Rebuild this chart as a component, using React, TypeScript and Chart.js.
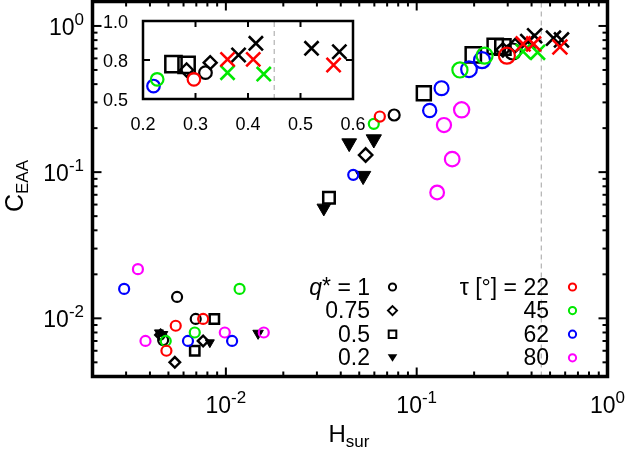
import React, { useEffect, useRef } from 'react';
import { Chart, registerables } from 'chart.js';

Chart.register(...registerables);

const FONT = '"Liberation Sans", Arial, Helvetica, sans-serif';

// ---- axis ranges ----
const X_MIN = 0.002;
const X_MAX = 1;
const Y_MIN = 0.004;
const Y_MAX = 1.47;
const H_MARK = 0.45;

const INSET_X_MIN = 0.2;
const INSET_X_MAX = 0.6;
const INSET_Y_MIN = 0.5;
const INSET_Y_MAX = 1.0;
const insetXTicks = [0.2, 0.3, 0.4, 0.5, 0.6];
const insetYTicks = [0.5, 0.75, 1.0];

const decadeTicks = [0.01, 0.1, 1];
const decadeExps = ['-2', '-1', '0'];

const qLabels = ['1', '0.75', '0.5', '0.2'];
const tauLabels = ['22', '45', '62', '80'];

// ---- data: [H_sur, C_EAA] ----
type P = [number, number];
const tau22: P[] = [[0.00546, 0.0089], [0.0076, 0.0099], [0.00488, 0.006], [0.0641, 0.24], [0.297, 0.626]];
const tau45: P[] = [[0.0118, 0.0159], [0.00687, 0.008], [0.00484, 0.007], [0.0596, 0.214], [0.1685, 0.5], [0.227, 0.626]];
const tau62: P[] = [[0.00293, 0.0159], [0.00633, 0.007], [0.01078, 0.007], [0.0465, 0.0958], [0.117, 0.264], [0.135, 0.375], [0.188, 0.506], [0.22, 0.583]];
const tau80: P[] = [[0.00346, 0.0217], [0.00379, 0.007], [0.00987, 0.008], [0.0158, 0.008], [0.128, 0.0726], [0.1535, 0.1227], [0.139, 0.21], [0.172, 0.267]];
const q1: P[] = [[0.00555, 0.014], [0.00695, 0.0099], [0.00469, 0.0071], [0.0762, 0.246], [0.319, 0.669]];
const q075: P[] = [[0.0054, 0.005], [0.0076, 0.007], [0.00455, 0.0077], [0.054, 0.131], [0.283, 0.686], [0.328, 0.733]];
const q05: P[] = [[0.0087, 0.0099], [0.00687, 0.006], [0.0347, 0.0667], [0.109, 0.347], [0.198, 0.634], [0.258, 0.724], [0.283, 0.718]];
const q02: P[] = [[0.00446, 0.008], [0.0047, 0.0078], [0.00824, 0.00684], [0.01475, 0.0079], [0.0326, 0.0568], [0.0443, 0.158], [0.0524, 0.0944], [0.0596, 0.168]];
const crossBlack: P[] = [[0.382, 0.782], [0.415, 0.857], [0.521, 0.825], [0.574, 0.803]];
const crossRed: P[] = [[0.361, 0.754], [0.41, 0.754], [0.563, 0.718]];
const crossGreen: P[] = [[0.361, 0.669], [0.43, 0.66]];

const RED = '#ff0000';
const GREEN = '#00e800';
const BLUE = '#0000ff';
const MAGENTA = '#ff00ff';
const BLACK = '#000000';
const tauColors = [RED, GREEN, BLUE, MAGENTA];

// ---- marker size helpers (style) ----
const lg = (v: number) => Math.log10(v);
const c01 = (t: number) => Math.max(0, Math.min(1, t));
const rCircle = (x: number) => 5 + 3 * c01((lg(x) + 1.2) / 0.5);
const rSquare = (x: number) => 6.6 + 4.2 * c01((lg(x) + 1.9) / 1.2);
const rDiamond = (x: number) => 5.3 + 1.4 * c01((lg(x) + 2) / 0.7);
const rTri = (x: number) => 5.2 + 3.6 * c01((lg(x) + 2) / 0.7);
const rCross = (_x: number) => 10.5;

function series(data: P[], style: string, color: string, size: (x: number) => number, opts: { fill?: boolean; rot?: number; width?: number; inset?: boolean } = {}) {
  const pts = data
    .filter(([x, y]) => !opts.inset || (x >= INSET_X_MIN && x <= INSET_X_MAX && y >= INSET_Y_MIN && y <= INSET_Y_MAX))
    .map(([x, y]) => ({ x, y }));
  const rad = (c: any) => (c && c.raw ? size(c.raw.x) : 5);
  return {
    type: 'scatter',
    data: pts,
    showLine: false,
    clip: false,
    pointStyle: style,
    pointRadius: rad,
    pointHoverRadius: rad,
    borderColor: color,
    pointBorderColor: color,
    backgroundColor: opts.fill ? color : 'rgba(0,0,0,0)',
    pointBackgroundColor: opts.fill ? color : 'rgba(0,0,0,0)',
    borderWidth: opts.width ?? 2.2,
    pointBorderWidth: opts.width ?? 2.2,
    pointRotation: opts.rot ?? 0,
  };
}

type Seg = { t: string; f: string; dy?: number };
function drawRich(ctx: CanvasRenderingContext2D, segs: Seg[], x: number, y: number, align: 'left' | 'center' | 'right') {
  let w = 0;
  const ws = segs.map((s) => {
    ctx.font = s.f;
    const m = ctx.measureText(s.t).width;
    w += m;
    return m;
  });
  let cx = align === 'left' ? x : align === 'center' ? x - w / 2 : x - w;
  ctx.textAlign = 'left';
  ctx.textBaseline = 'alphabetic';
  segs.forEach((s, i) => {
    ctx.font = s.f;
    ctx.fillText(s.t, cx, y + (s.dy || 0));
    cx += ws[i];
  });
}

function line(ctx: CanvasRenderingContext2D, x1: number, y1: number, x2: number, y2: number) {
  ctx.beginPath();
  ctx.moveTo(x1, y1);
  ctx.lineTo(x2, y2);
  ctx.stroke();
}

function legendMarker(ctx: CanvasRenderingContext2D, kind: string, x: number, y: number, color: string) {
  ctx.save();
  ctx.strokeStyle = color;
  ctx.fillStyle = color;
  ctx.lineWidth = 2;
  ctx.beginPath();
  if (kind === 'circle') {
    ctx.arc(x, y, 3.6, 0, Math.PI * 2);
    ctx.stroke();
  } else if (kind === 'diamond') {
    ctx.moveTo(x, y - 4.5);
    ctx.lineTo(x + 4.5, y);
    ctx.lineTo(x, y + 4.5);
    ctx.lineTo(x - 4.5, y);
    ctx.closePath();
    ctx.stroke();
  } else if (kind === 'square') {
    ctx.rect(x - 3.8, y - 3.8, 7.6, 7.6);
    ctx.stroke();
  } else {
    ctx.moveTo(x - 4.8, y - 3.5);
    ctx.lineTo(x + 4.8, y - 3.5);
    ctx.lineTo(x, y + 4);
    ctx.closePath();
    ctx.fill();
  }
  ctx.restore();
}

const mainDecor = {
  id: 'mainDecor',
  afterDraw(chart: any) {
    const { ctx, chartArea: a } = chart;
    const xs = chart.scales.x;
    const ys = chart.scales.y;
    ctx.save();
    ctx.strokeStyle = '#000';
    ctx.lineWidth = 2;
    for (let e = -3; e <= 0; e++) {
      for (let k = 1; k <= 9; k++) {
        const v = k * Math.pow(10, e);
        const len = k === 1 ? 9 : 5;
        if (v >= X_MIN * 0.999 && v <= X_MAX * 1.001) {
          const p = xs.getPixelForValue(v);
          line(ctx, p, a.bottom, p, a.bottom - len);
          line(ctx, p, a.top, p, a.top + len);
        }
        if (v >= Y_MIN * 0.999 && v <= Y_MAX) {
          const p = ys.getPixelForValue(v);
          line(ctx, a.left, p, a.left + len, p);
          line(ctx, a.right, p, a.right - len, p);
        }
      }
    }
    ctx.lineWidth = 3.5;
    ctx.strokeRect(a.left, a.top, a.right - a.left, a.bottom - a.top);

    ctx.fillStyle = '#000';
    decadeTicks.forEach((v, i) => {
      const segs: Seg[] = [
        { t: '10', f: `23px ${FONT}` },
        { t: decadeExps[i], f: `17px ${FONT}`, dy: -10 },
      ];
      drawRich(ctx, segs, xs.getPixelForValue(v), a.bottom + 36, 'center');
      drawRich(ctx, segs, 84, ys.getPixelForValue(v) + 9, 'right');
    });

    drawRich(ctx, [{ t: 'H', f: `24px ${FONT}` }, { t: 'sur', f: `17px ${FONT}`, dy: 5 }], 349, 442, 'center');
    ctx.save();
    ctx.translate(23, 186);
    ctx.rotate(-Math.PI / 2);
    drawRich(ctx, [{ t: 'C', f: `25px ${FONT}` }, { t: 'EAA', f: `17px ${FONT}`, dy: 5 }], 0, 0, 'center');
    ctx.restore();

    // legend
    const lf = `23px ${FONT}`;
    const rowY = (i: number) => 294.5 + i * 23.6;
    const kinds = ['circle', 'diamond', 'square', 'triangle'];
    qLabels.forEach((lab, i) => {
      const segs: Seg[] =
        i === 0
          ? [{ t: 'q', f: `italic 23px ${FONT}` }, { t: '*', f: lf, dy: -1 }, { t: ' = ' + lab, f: lf }]
          : [{ t: lab, f: lf }];
      drawRich(ctx, segs, 370, rowY(i), 'right');
      legendMarker(ctx, kinds[i], 392.5, rowY(i) - 7.5, '#000');
    });
    tauLabels.forEach((lab, i) => {
      const segs: Seg[] = i === 0 ? [{ t: 'τ [°] = ' + lab, f: lf }] : [{ t: lab, f: lf }];
      drawRich(ctx, segs, 549, rowY(i), 'right');
      legendMarker(ctx, 'circle', 572.5, rowY(i) - 7.5, tauColors[i]);
    });
    ctx.restore();
  },
};

const insetDecor = {
  id: 'insetDecor',
  afterDraw(chart: any) {
    const { ctx, chartArea: a } = chart;
    const xs = chart.scales.x;
    const ys = chart.scales.y;
    ctx.save();
    ctx.strokeStyle = '#000';
    ctx.lineWidth = 2;
    insetXTicks.slice(1, -1).forEach((v) => {
      const p = xs.getPixelForValue(v);
      line(ctx, p, a.bottom, p, a.bottom - 6);
      line(ctx, p, a.top, p, a.top + 6);
    });
    insetYTicks.slice(1, -1).forEach((v) => {
      const p = ys.getPixelForValue(v);
      line(ctx, a.left, p, a.left + 7, p);
      line(ctx, a.right, p, a.right - 7, p);
    });
    ctx.lineWidth = 2.5;
    ctx.strokeRect(a.left, a.top, a.right - a.left, a.bottom - a.top);
    ctx.fillStyle = '#000';
    ctx.font = `18px ${FONT}`;
    ctx.textBaseline = 'alphabetic';
    ctx.textAlign = 'center';
    insetXTicks.forEach((v) => ctx.fillText(v.toFixed(1), xs.getPixelForValue(v), a.bottom + 31));
    ctx.textAlign = 'right';
    insetYTicks.forEach((v) => ctx.fillText(v.toFixed(1), a.left - 15, ys.getPixelForValue(v) + 7));
    ctx.restore();
  },
};

function buildDatasets(inset: boolean): any[] {
  const o = (extra: any) => ({ ...extra, inset });
  const rc = inset ? () => 6.3 : rCircle;
  const rs = inset ? () => 11.5 : rSquare;
  const rd = inset ? () => 6.5 : rDiamond;
  const rx = inset ? () => 10 : rCross;
  const list: any[] = [
    series(crossRed, 'crossRot', RED, rx, o({ width: 2.6 })),
    series(crossGreen, 'crossRot', GREEN, rx, o({ width: 2.6 })),
    series(crossBlack, 'crossRot', BLACK, rx, o({ width: 2.6 })),
    series(tau22, 'circle', RED, rc, o({})),
    series(tau45, 'circle', GREEN, rc, o({})),
    series(tau62, 'circle', BLUE, rc, o({})),
    series(tau80, 'circle', MAGENTA, rc, o({})),
    series(q1, 'circle', BLACK, rc, o({})),
    series(q075, 'rectRot', BLACK, rd, o({ width: 2.4 })),
    series(q05, 'rect', BLACK, rs, o({ width: 2.5 })),
    series(q02, 'triangle', BLACK, rTri, o({ fill: true, rot: 180, width: 1 })),
  ];
  list.push({
    type: 'line',
    data: inset
      ? [{ x: H_MARK, y: INSET_Y_MIN }, { x: H_MARK, y: INSET_Y_MAX }]
      : [{ x: H_MARK, y: Y_MIN }, { x: H_MARK, y: Y_MAX }],
    showLine: true,
    borderColor: '#b8b8b8',
    borderWidth: 1.3,
    borderDash: [5, 4],
    pointRadius: 0,
    fill: false,
  });
  return list;
}

export default function App() {
  const mainRef = useRef<HTMLCanvasElement>(null);
  const insetRef = useRef<HTMLCanvasElement>(null);

  useEffect(() => {
    document.body.style.margin = '0';
    const common = {
      responsive: false,
      animation: false,
      events: [],
      plugins: { legend: { display: false }, tooltip: { enabled: false } },
    };
    const main = new Chart(mainRef.current as HTMLCanvasElement, {
      type: 'scatter',
      data: { datasets: buildDatasets(false) },
      options: {
        ...common,
        layout: { autoPadding: false, padding: { left: 92.5, right: 18.5, top: 1.5, bottom: 72.5 } },
        scales: {
          x: { type: 'logarithmic', min: X_MIN, max: X_MAX, display: false },
          y: { type: 'logarithmic', min: Y_MIN, max: Y_MAX, display: false },
        },
      } as any,
      plugins: [mainDecor],
    } as any);
    const inset = new Chart(insetRef.current as HTMLCanvasElement, {
      type: 'scatter',
      data: { datasets: buildDatasets(true) },
      options: {
        ...common,
        layout: { autoPadding: false, padding: { left: 48, right: 22, top: 16, bottom: 41 } },
        scales: {
          x: { type: 'linear', min: INSET_X_MIN, max: INSET_X_MAX, display: false },
          y: { type: 'linear', min: INSET_Y_MIN, max: INSET_Y_MAX, display: false },
        },
      } as any,
      plugins: [insetDecor],
    } as any);
    return () => {
      main.destroy();
      inset.destroy();
    };
  }, []);

  return (
    <div style={{ position: 'relative', width: 626, height: 449, background: '#fff', overflow: 'hidden' }}>
      <canvas ref={mainRef} width={626} height={449} style={{ position: 'absolute', left: 0, top: 0 }} />
      <canvas ref={insetRef} width={280} height={135} style={{ position: 'absolute', left: 95, top: 5 }} />
    </div>
  );
}
